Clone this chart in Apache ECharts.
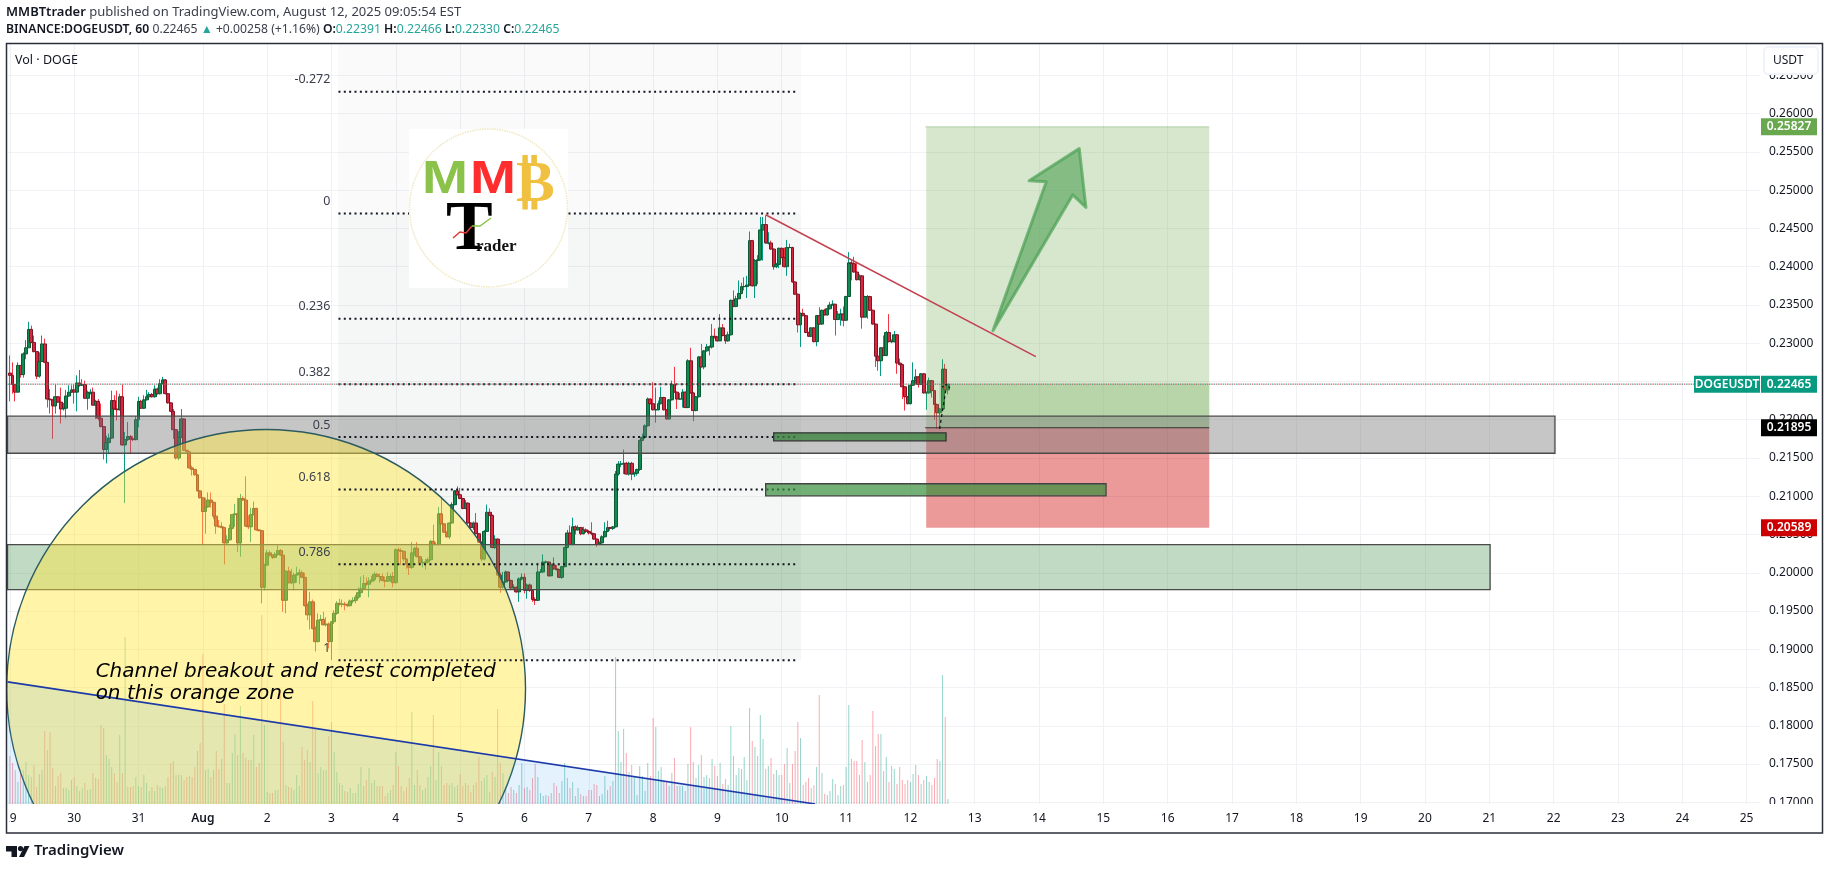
<!DOCTYPE html>
<html>
<head>
<meta charset="utf-8">
<title>DOGEUSDT</title>
<style>
html, body { margin: 0; padding: 0; background: #fff; overflow: hidden; }
#main { width: 1829px; height: 870px; }
</style>
<script src="https://cdn.jsdelivr.net/npm/echarts@6/dist/echarts.min.js"></script>
</head>
<body>
<div id="main"></div>
<script>
// hourly candles, hour 0 = Jul 29 00:00, units of 0.0001 USDT
var firstOpen = 2261;
var closes = [
	2258,2246,2236,2271,2259,2286,2294,2318,2301,2289,2257,2276,2299,2275,2227,2226,2218,2230,2223,2214,2215,2231,2236,2239,
	2236,2248,2245,2246,2228,2235,2236,2219,2224,2202,2191,2161,2170,2176,2225,2214,2213,2230,2167,2174,2178,2175,2174,2200,
	2224,2215,2226,2230,2233,2230,2240,2234,2247,2252,2234,2222,2211,2187,2150,2177,2201,2160,2158,2137,2135,2128,2107,2098,
	2080,2086,2095,2092,2074,2061,2060,2059,2039,2043,2058,2076,2077,2039,2097,2095,2061,2060,2076,2084,2056,2055,1981,2010,
	2026,2023,2020,2024,2029,2023,1964,2002,1987,1987,1997,1998,2000,1994,1957,1945,1962,1927,1910,1938,1939,1932,1933,1910,
	1936,1947,1960,1959,1959,1958,1957,1963,1964,1968,1974,1979,1986,1985,1989,1991,1998,1995,1995,1990,1989,1995,1995,1987,
	2030,2029,2028,2018,2011,2007,2026,2032,2021,2013,2013,2014,2017,2041,2037,2037,2077,2064,2053,2047,2065,2089,2107,2102,
	2097,2084,2091,2065,2059,2065,2051,2040,2018,2054,2079,2075,2033,2044,1997,1981,1988,2001,1990,1980,1981,1975,1992,1994,
	1977,1984,1977,1965,1964,2001,2001,2014,2014,1996,2010,2005,2004,1994,2008,2033,2052,2037,2060,2056,2059,2051,2056,2054,
	2052,2051,2044,2037,2039,2047,2054,2059,2058,2060,2129,2142,2142,2143,2129,2143,2129,2130,2135,2173,2177,2192,2227,2221,
	2213,2213,2221,2229,2213,2201,2226,2246,2236,2227,2227,2236,2216,2277,2235,2212,2230,2282,2269,2290,2295,2295,2309,2308,
	2303,2320,2310,2303,2311,2356,2348,2358,2365,2374,2374,2376,2434,2375,2408,2409,2448,2455,2431,2431,2423,2400,2403,2424,
	2412,2400,2425,2425,2380,2364,2324,2339,2336,2314,2309,2320,2302,2336,2325,2343,2337,2345,2350,2351,2331,2338,2338,2330,
	2361,2405,2404,2393,2383,2388,2334,2361,2361,2343,2325,2283,2277,2294,2284,2314,2302,2302,2311,2274,2272,2243,2230,2221,
	2245,2251,2256,2246,2260,2235,2235,2251,2238,2220,2209,2214,2266,2239,2246.5
];
var highs = [
	2284,2275,2246,2275,2271,2288,2304,2328,2323,2310,2289,2288,2310,2306,2275,2240,2227,2246,2231,2242,2222,2239,2245,2245,
	2246,2258,2265,2253,2251,2238,2240,2242,2226,2227,2221,2192,2179,2182,2238,2232,2238,2234,2246,2184,2197,2180,2179,2205,
	2230,2226,2232,2239,2236,2235,2245,2242,2253,2256,2253,2235,2223,2214,2188,2185,2214,2202,2161,2159,2140,2135,2129,2108,
	2098,2098,2105,2105,2093,2075,2069,2066,2060,2049,2063,2077,2090,2098,2103,2100,2126,2075,2085,2093,2085,2057,2056,2012,
	2030,2029,2024,2027,2036,2031,2024,2003,2008,2005,2000,2008,2005,2003,2000,1960,1975,1965,1930,1947,1945,1949,1942,1935,
	1937,1951,1963,1966,1965,1962,1960,1965,1968,1971,1981,1995,1997,1994,1994,1996,2001,2000,1999,1999,1995,2001,1999,2001,
	2032,2033,2032,2029,2019,2012,2040,2034,2040,2022,2018,2018,2020,2043,2063,2040,2086,2098,2065,2054,2066,2092,2108,2113,
	2111,2098,2095,2092,2066,2067,2078,2052,2041,2056,2089,2084,2076,2049,2045,2000,2001,2003,2001,1991,1985,1982,1994,1999,
	1999,1986,1986,1978,1968,2013,2005,2024,2016,2015,2012,2020,2010,2005,2009,2034,2056,2062,2072,2062,2062,2060,2060,2058,
	2056,2066,2052,2045,2041,2049,2066,2068,2060,2061,2133,2146,2146,2161,2145,2145,2145,2132,2136,2174,2182,2194,2229,2228,
	2249,2242,2225,2243,2230,2214,2227,2251,2269,2237,2235,2240,2237,2279,2294,2236,2231,2283,2299,2291,2299,2297,2325,2319,
	2309,2338,2325,2311,2315,2357,2369,2362,2382,2379,2386,2388,2446,2435,2410,2415,2465,2465,2467,2445,2434,2424,2405,2425,
	2425,2425,2435,2430,2426,2381,2365,2340,2345,2337,2315,2321,2321,2337,2347,2344,2345,2350,2354,2356,2351,2342,2345,2348,
	2362,2419,2410,2413,2406,2390,2389,2362,2363,2362,2344,2326,2285,2295,2310,2316,2338,2305,2316,2312,2280,2273,2244,2231,
	2246,2275,2266,2257,2261,2261,2237,2255,2252,2239,2221,2215,2279,2273,2246.6
];
var lows = [
	2224,2234,2224,2236,2255,2255,2279,2294,2300,2288,2253,2255,2276,2274,2216,2208,2175,2208,2222,2195,2212,2202,2230,2235,
	2221,2211,2243,2244,2227,2213,2233,2219,2201,2199,2190,2148,2143,2155,2175,2213,2199,2212,2166,2091,2172,2155,2172,2173,
	2190,2214,2214,2225,2229,2229,2229,2233,2233,2246,2233,2221,2210,2175,2148,2147,2176,2159,2157,2136,2127,2127,2106,2097,
	2036,2051,2085,2085,2070,2051,2059,2058,2011,2038,2042,2057,2060,2027,2021,2094,2060,2057,2040,2075,2055,2054,1960,1977,
	2009,2021,2018,2019,2022,2022,1949,1947,1986,1985,1977,1987,1985,1993,1956,1938,1926,1926,1897,1909,1937,1931,1930,1901,
	1886,1933,1945,1957,1955,1951,1955,1956,1960,1960,1966,1968,1978,1983,1968,1987,1989,1994,1987,1989,1981,1988,1988,1981,
	1986,2012,2010,2015,2005,1997,2005,2022,2020,2012,2007,2004,2012,2016,2036,2036,2036,2063,2052,2046,2044,2064,2088,2101,
	2096,2083,2083,2064,2058,2056,2050,2039,2015,2016,2054,2074,2032,2031,1996,1974,1979,1987,1989,1978,1978,1974,1962,1990,
	1973,1966,1975,1962,1958,1963,2000,2000,2012,1995,2000,2004,2003,1993,1992,2007,2032,2036,2036,2050,2055,2049,2050,2052,
	2050,2049,2043,2034,2036,2038,2046,2053,2055,2056,2059,2127,2138,2129,2128,2127,2121,2125,2127,2133,2172,2175,2191,2220,
	2212,2196,2212,2220,2212,2200,2200,2225,2235,2214,2226,2216,2215,2215,2234,2198,2211,2229,2268,2266,2289,2284,2293,2306,
	2302,2303,2309,2299,2302,2310,2347,2347,2358,2364,2369,2359,2375,2374,2359,2377,2408,2408,2430,2429,2422,2396,2398,2398,
	2411,2399,2388,2424,2379,2363,2314,2295,2335,2313,2308,2308,2301,2296,2324,2324,2336,2336,2344,2349,2310,2330,2323,2322,
	2329,2361,2382,2392,2382,2382,2319,2334,2332,2342,2324,2269,2264,2257,2283,2283,2301,2300,2301,2260,2271,2227,2212,2220,
	2220,2244,2246,2242,2246,2234,2213,2234,2229,2200,2188,2188,2213,2229,2233
];
// volume, relative units
var volumes = [
	48,41,34,22,35,34,42,29,27,39,17,30,34,73,54,72,36,18,28,31,16,16,14,24,
	27,18,13,16,21,14,15,31,26,25,79,76,49,45,37,31,22,69,31,167,17,17,18,27,
	18,17,29,21,13,17,13,19,17,16,18,27,41,43,29,29,29,24,27,28,27,37,53,61,
	150,34,35,27,34,53,35,45,100,21,21,51,70,49,98,51,46,44,44,69,37,41,189,79,
	12,11,11,14,14,114,62,19,17,16,14,29,18,57,44,54,42,103,74,31,37,34,34,68,
	82,52,32,21,19,13,12,16,11,11,20,37,18,24,36,21,24,18,18,18,8,11,14,19,
	52,38,18,13,17,26,92,19,34,19,14,16,27,38,89,24,52,38,19,21,19,21,17,19,
	30,18,21,19,12,19,22,47,23,26,29,12,32,27,95,41,31,17,11,17,14,11,19,41,
	16,17,14,26,40,27,11,8,9,8,11,21,18,11,23,41,26,16,22,8,16,10,8,8,
	14,14,20,19,8,10,28,14,18,23,147,73,42,75,51,32,39,27,9,38,28,13,41,28,
	86,77,33,37,23,23,18,31,46,18,18,18,13,40,77,42,26,39,49,27,29,26,45,38,
	28,41,20,25,19,78,48,29,36,35,47,24,96,63,57,48,89,65,35,38,46,30,34,29,
	29,40,56,21,40,53,82,66,19,22,26,16,19,37,109,31,10,9,13,25,20,9,18,19,
	37,99,45,43,43,29,64,42,22,29,93,58,70,70,33,47,22,38,35,20,37,24,20,24,
	22,30,39,29,20,24,28,22,19,26,45,43,129,87,5
];
var dayLabels = ['29','30','31','Aug','2','3','4','5','6','7','8','9','10','11','12','13','14','15','16','17','18','19','20','21','22','23','24','25'];
var priceTicks = [0.17,0.175,0.18,0.185,0.19,0.195,0.2,0.205,0.21,0.215,0.22,0.225,0.23,0.235,0.24,0.245,0.25,0.255,0.26,0.265];
var fibLevels = ['-0.272','0','0.236','0.382','0.5','0.618','0.786','1'];
var fibPrices = [0.26287,0.24695,0.23321,0.22463,0.21774,0.21089,0.20110,0.18857];
var lastPrice = 0.22465;
var targetPrice = 0.25827;
var entryPrice = 0.21895;
var stopPrice = 0.20589;
var note = 'Channel breakout and retest completed\non this orange zone';

var xMin = -0.86, xMax = 653;
var yMin = 0.16978, yMax = 0.2691;

var hours = closes.map(function(c, i) { return i; });
var opens = closes.map(function(c, i) { return i ? closes[i - 1] : firstOpen; });
var dayTicks = dayLabels.map(function(d, i) { return i * 24; });
var UP = '#089981', DOWN = '#f23645';

var wickData = hours.map(function(h) {
	return [h, opens[h] / 1e4, closes[h] / 1e4, lows[h] / 1e4, highs[h] / 1e4];
});
var bodyData = hours.map(function(h) {
	var lo = Math.min(opens[h], closes[h]) / 1e4, hi = Math.max(opens[h], closes[h]) / 1e4;
	return [h, opens[h] / 1e4, closes[h] / 1e4, lo, hi];
});
var volumeData = hours.map(function(h) {
	return {
		value: [h, volumes[h]],
		itemStyle: { color: closes[h] >= opens[h] ? 'rgba(8,153,129,0.42)' : 'rgba(242,54,69,0.42)' }
	};
});

function box(x0, x1, p0, p1, fill, stroke, width) {
	return { t: 'box', x0: x0, x1: x1, p0: p0, p1: p1, fill: fill, stroke: stroke, width: width };
}
function line(pts, stroke, width, dash, closed, fill, offset) {
	return { t: closed ? 'polygon' : 'polyline', pts: pts, stroke: stroke, width: width, dash: dash, fill: fill, offset: offset };
}

var backdrop = [
	box(122.5, 295.2, yMax, fibPrices[1], 'rgba(120,123,134,0.04)'),
	box(122.5, 295.2, fibPrices[1], fibPrices[7], 'rgba(120,123,134,0.07)')
];

var drawings = [];
// long position
drawings.push(box(341.9, 447.5, targetPrice, entryPrice, 'rgba(106,168,79,0.28)'));
drawings.push(box(346.8, 447.5, lastPrice, entryPrice, 'rgba(106,168,79,0.28)'));
drawings.push(box(341.9, 447.5, entryPrice, stopPrice, 'rgba(204,0,0,0.4)'));
drawings.push(line([[341.5, targetPrice], [447.5, targetPrice]], 'rgba(106,168,79,0.4)', 1));
drawings.push(line([[341.5, entryPrice], [447.5, entryPrice]], '#000', 1.2));
// zones
drawings.push(box(xMin, 576.5, 0.22046, 0.21562, 'rgba(120,120,120,0.42)', '#4a4a4a', 1.3));
drawings.push(box(xMin, 552.3, 0.20367, 0.19780, 'rgba(76,150,84,0.35)', '#4a4a4a', 1.3));
// the yellow zone
drawings.push({ t: 'circle', h: 95.6, p: 0.18481, edge: 192.4 });
// falling channel
drawings.push(line([[xMin, 0.18574], [300.5, 0.16978], [xMin, 0.16978]], null, 0, null, true, 'rgba(33,150,243,0.12)'));
drawings.push(line([[xMin, 0.18574], [300.5, 0.16978]], '#1c3aa9', 1.6));
// fib levels
fibPrices.forEach(function(p, i) {
	drawings.push(line([[122.6, p], [293.6, p]], '#131722', 2, [2, 3.35]));
	drawings.push({ t: 'label', h: 119.6, p: p, text: fibLevels[i] });
});
drawings.push(line([[xMin, lastPrice], [628.4, lastPrice]], '#089981', 1, [1.5, 3]));
drawings.push(line([[xMin, lastPrice], [628.4, lastPrice]], '#f23645', 1, [1.5, 3], false, null, 2.25));
drawings.push(box(285, 349.3, 0.21829, 0.21724, 'rgba(56,130,60,0.78)', '#333', 1.3));
drawings.push(box(282, 409, 0.21163, 0.21006, 'rgba(56,142,60,0.7)', '#444', 1.3));
drawings.push(line([[282, 0.24678], [382.8, 0.22825]], '#c2434f', 1.6));
drawings.push(line([[366.8, 0.23164], [386.7, 0.25109], [380.3, 0.25122], [399, 0.25543], [401.5, 0.24773], [396.6, 0.24939]], 'rgba(76,160,84,0.7)', 3, null, true, 'rgba(76,160,84,0.6)'));
drawings.push(line([[346.9, 0.21881], [349.3, 0.22403]], '#111', 1.2, [3, 3]));
drawings.push(line([[347.8, 0.22424], [349.3, 0.2246], [351.1, 0.22403]], '#111', 1.2, [2, 2]));
drawings.push({ t: 'note', h: 32, p: 0.18557, text: note });

function renderShape(d, api) {
	var c;
	if (d.t === 'box') {
		var a = api.coord([d.x0, d.p0]), b = api.coord([d.x1, d.p1]);
		return {
			type: 'rect',
			shape: { x: a[0], y: a[1], width: b[0] - a[0], height: b[1] - a[1] },
			style: { fill: d.fill, stroke: d.stroke || null, lineWidth: d.width || 0 }
		};
	}
	if (d.t === 'polyline' || d.t === 'polygon') {
		return {
			type: d.t,
			shape: { points: d.pts.map(function(p) { return api.coord(p); }) },
			style: {
				fill: d.t === 'polygon' ? d.fill : null, stroke: d.stroke, lineWidth: d.width,
				lineDash: d.dash || null, lineDashOffset: d.offset || 0, lineJoin: 'round'
			}
		};
	}
	if (d.t === 'label') {
		c = api.coord([d.h, d.p]);
		return {
			type: 'text',
			style: { text: d.text, x: c[0], y: c[1] - 12, align: 'right', verticalAlign: 'middle', fill: '#3a3e4a', font: '12.5px "Noto Sans"' }
		};
	}
	if (d.t === 'circle') {
		c = api.coord([d.h, d.p]);
		return {
			type: 'circle',
			shape: { cx: c[0], cy: c[1], r: api.coord([d.edge, d.p])[0] - c[0] },
			style: { fill: 'rgba(255,230,59,0.45)', stroke: '#2b5b5f', lineWidth: 1.4 }
		};
	}
	c = api.coord([d.h, d.p]);
	return {
		type: 'text',
		style: { text: d.text, x: c[0], y: c[1], verticalAlign: 'middle', fill: '#000', font: 'italic 20px "DejaVu Sans"', lineHeight: 22 }
	};
}

// price tags over the axis
var tags = [
	{ price: targetPrice, color: '#6aa84f' },
	{ price: lastPrice, color: '#089981', name: 'DOGEUSDT' },
	{ price: entryPrice, color: '#000000' },
	{ price: stopPrice, color: '#cc0000' }
];

var chart = echarts.init(document.getElementById('main'));
var RIGHT_TEXT = '12px "Noto Sans"';

function g(el) { el.z = 100; return el; }
var header1 = '{b|MMBTtrader} published on TradingView.com, August 12, 2025 09:05:54 EST';
var header2 = '{b|BINANCE:DOGEUSDT, 60} 0.22465 {t|▲} +0.00258 (+1.16%) {b|O:}{t|0.22391} {b|H:}{t|0.22466} {b|L:}{t|0.22330} {b|C:}{t|0.22465}';
var headRich1 = { b: { fontWeight: 600, fontFamily: 'Noto Sans', fontSize: 13, fill: '#131722' } };
var headRich2 = { b: { fontWeight: 600, fontFamily: 'Noto Sans', fontSize: 12.2, fill: '#131722' }, t: { fill: '#26a69a', fontFamily: 'Noto Sans', fontSize: 12.2 } };

var graphics = [
	{ type: 'rect', shape: { x: 0, y: 805, width: 9, height: 28 }, style: { fill: '#fff' } },
	{ type: 'rect', shape: { x: 1762, y: 804, width: 60, height: 28 }, style: { fill: '#fff' } },
	{ type: 'rect', shape: { x: 1764, y: 47, width: 54, height: 27, r: 4 }, style: { fill: '#fff', stroke: '#f0f3fa', lineWidth: 2 } },
	{ type: 'text', style: { text: 'USDT', x: 1773, y: 61, verticalAlign: 'middle', font: RIGHT_TEXT, fill: '#131722' } },
	{ type: 'rect', shape: { x: 6.5, y: 43.5, width: 1816, height: 789.5 }, style: { fill: null, stroke: '#2a2e39', lineWidth: 1.5 } },
	{ type: 'text', style: { text: 'Vol · DOGE', x: 15, y: 60, verticalAlign: 'middle', font: '12.5px "Noto Sans"', fill: '#131722' } },
	{ type: 'text', style: { text: header1, x: 6, y: 12, verticalAlign: 'middle', font: '13px "Noto Sans"', fill: '#3a3e4a', rich: headRich1 } },
	{ type: 'text', style: { text: header2, x: 6, y: 30, verticalAlign: 'middle', font: '12.2px "Noto Sans"', fill: '#3a3e4a', rich: headRich2 } },
	// logo
	{ type: 'rect', shape: { x: 409, y: 129, width: 159, height: 159 }, style: { fill: '#fff' } },
	{ type: 'circle', shape: { cx: 488.5, cy: 208, r: 79 }, style: { fill: null, stroke: '#efe8c2', lineWidth: 1.5, lineDash: [1.5, 1] } },
	{ type: 'text', x: 422, y: 203, scaleX: 1.2, style: { text: 'M', x: 0, y: 0, verticalAlign: 'bottom', font: 'bold 46px "Liberation Sans"', fill: '#8bc34a' } },
	{ type: 'text', x: 470, y: 203, scaleX: 1.2, style: { text: 'M', x: 0, y: 0, verticalAlign: 'bottom', font: 'bold 46px "Liberation Sans"', fill: '#ff2d2d' } },
	{ type: 'text', style: { text: '₿', x: 516, y: 186, verticalAlign: 'middle', font: 'bold 58px "DejaVu Sans"', fill: '#f0c040' } },
	{ type: 'text', style: { text: 'T', x: 446, y: 231, verticalAlign: 'middle', font: 'bold 70px "Liberation Serif"', fill: '#000' } },
	{ type: 'text', style: { text: 'rader', x: 476, y: 247, verticalAlign: 'middle', font: 'bold 17px "Liberation Serif"', fill: '#111' } },
	{ type: 'polyline', shape: { points: [[453, 238], [460, 232], [466, 233], [472, 226]] }, style: { fill: null, stroke: '#e53935', lineWidth: 1.5 } },
	{ type: 'polyline', shape: { points: [[472, 226], [480, 226], [491, 218]] }, style: { fill: null, stroke: '#8bc34a', lineWidth: 1.5 } },
	// footer
	{ type: 'polygon', shape: { points: [[6, 846], [17, 846], [17, 857], [11.5, 857], [11.5, 851.5], [6, 851.5]] }, style: { fill: '#131722' } },
	{ type: 'circle', shape: { cx: 20.5, cy: 848.6, r: 2.6 }, style: { fill: '#131722' } },
	{ type: 'polygon', shape: { points: [[24.5, 846], [29.5, 846], [24, 857], [19, 857]] }, style: { fill: '#131722' } },
	{ type: 'text', style: { text: 'TradingView', x: 34, y: 851, verticalAlign: 'middle', font: '600 15px "Noto Sans"', fill: '#131722' } }
].map(g);

var option = {
	animation: false,
	backgroundColor: '#fff',
	textStyle: { fontFamily: 'Noto Sans' },
	grid: { left: 7, right: 69, top: 44, bottom: 66 },
	xAxis: {
		type: 'value', min: xMin, max: xMax,
		axisLine: { show: false },
		axisTick: { show: false, customValues: dayTicks },
		splitLine: { show: true, lineStyle: { color: '#eff1f4', width: 1 } },
		axisLabel: {
			customValues: dayTicks, margin: 9, color: '#131722', fontSize: 12,
			showMinLabel: true, showMaxLabel: true, hideOverlap: false,
			formatter: function(v) {
				var name = dayLabels[v / 24];
				return name === 'Aug' ? '{b|Aug}' : name;
			},
			rich: { b: { fontWeight: 600, fontSize: 12, color: '#131722' } }
		}
	},
	yAxis: [{
		type: 'value', position: 'right', min: yMin, max: yMax,
		axisLine: { show: false },
		axisTick: { show: false, customValues: priceTicks },
		splitLine: { show: true, lineStyle: { color: '#f0f2f5', width: 1 } },
		axisLabel: {
			customValues: priceTicks, margin: 9, color: '#131722', fontSize: 12,
			formatter: function(v) { return v.toFixed(5); }
		}
	}, {
		type: 'value', min: 0, max: 760, show: false
	}],
	graphic: { elements: graphics },
	series: [{
		type: 'custom', name: 'fib back', z: 1, silent: true, clip: true,
		renderItem: function(params, api) { return renderShape(backdrop[params.dataIndex], api); },
		data: backdrop.map(function(d, i) { return [i, 0]; })
	}, {
		type: 'bar', name: 'Vol', yAxisIndex: 1, z: 2, barWidth: 1, silent: true,
		data: volumeData
	}, {
		type: 'candlestick', name: 'wicks', z: 3, barWidth: 1, silent: true,
		itemStyle: { color: UP, color0: DOWN, borderColor: UP, borderColor0: DOWN, borderWidth: 1 },
		data: wickData
	}, {
		type: 'candlestick', name: 'DOGEUSDT', z: 4, barWidth: 3.4, silent: true,
		itemStyle: { color: '#118a52', color0: '#d9263f', borderColor: '#0b5a33', borderColor0: '#7e1526', borderWidth: 1 },
		data: bodyData
	}, {
		type: 'custom', name: 'drawings', z: 5, silent: true, clip: true,
		renderItem: function(params, api) { return renderShape(drawings[params.dataIndex], api); },
		data: drawings.map(function(d, i) { return [i, 0]; })
	}, {
		type: 'custom', name: 'tags', z: 6, silent: true, clip: false,
		renderItem: function(params, api) {
			var tag = tags[params.dataIndex];
			var y = api.coord([0, tag.price])[1];
			var kids = [
				{ type: 'rect', shape: { x: 1761, y: y - 8.5, width: 56, height: 17 }, style: { fill: tag.color } },
				{ type: 'text', style: { text: tag.price.toFixed(5), x: 1789, y: y, align: 'center', verticalAlign: 'middle', fill: '#fff', font: '600 12px "Noto Sans"' } }
			];
			if (tag.name) {
				kids.push({ type: 'rect', shape: { x: 1694, y: y - 8.5, width: 66, height: 17 }, style: { fill: tag.color } });
				kids.push({ type: 'text', style: { text: tag.name, x: 1727, y: y, align: 'center', verticalAlign: 'middle', fill: '#fff', font: '600 12px "Noto Sans"' } });
			}
			return { type: 'group', children: kids };
		},
		data: tags.map(function(t, i) { return [i, t.price]; })
	}]
};
chart.setOption(option);
</script>
</body>
</html>
